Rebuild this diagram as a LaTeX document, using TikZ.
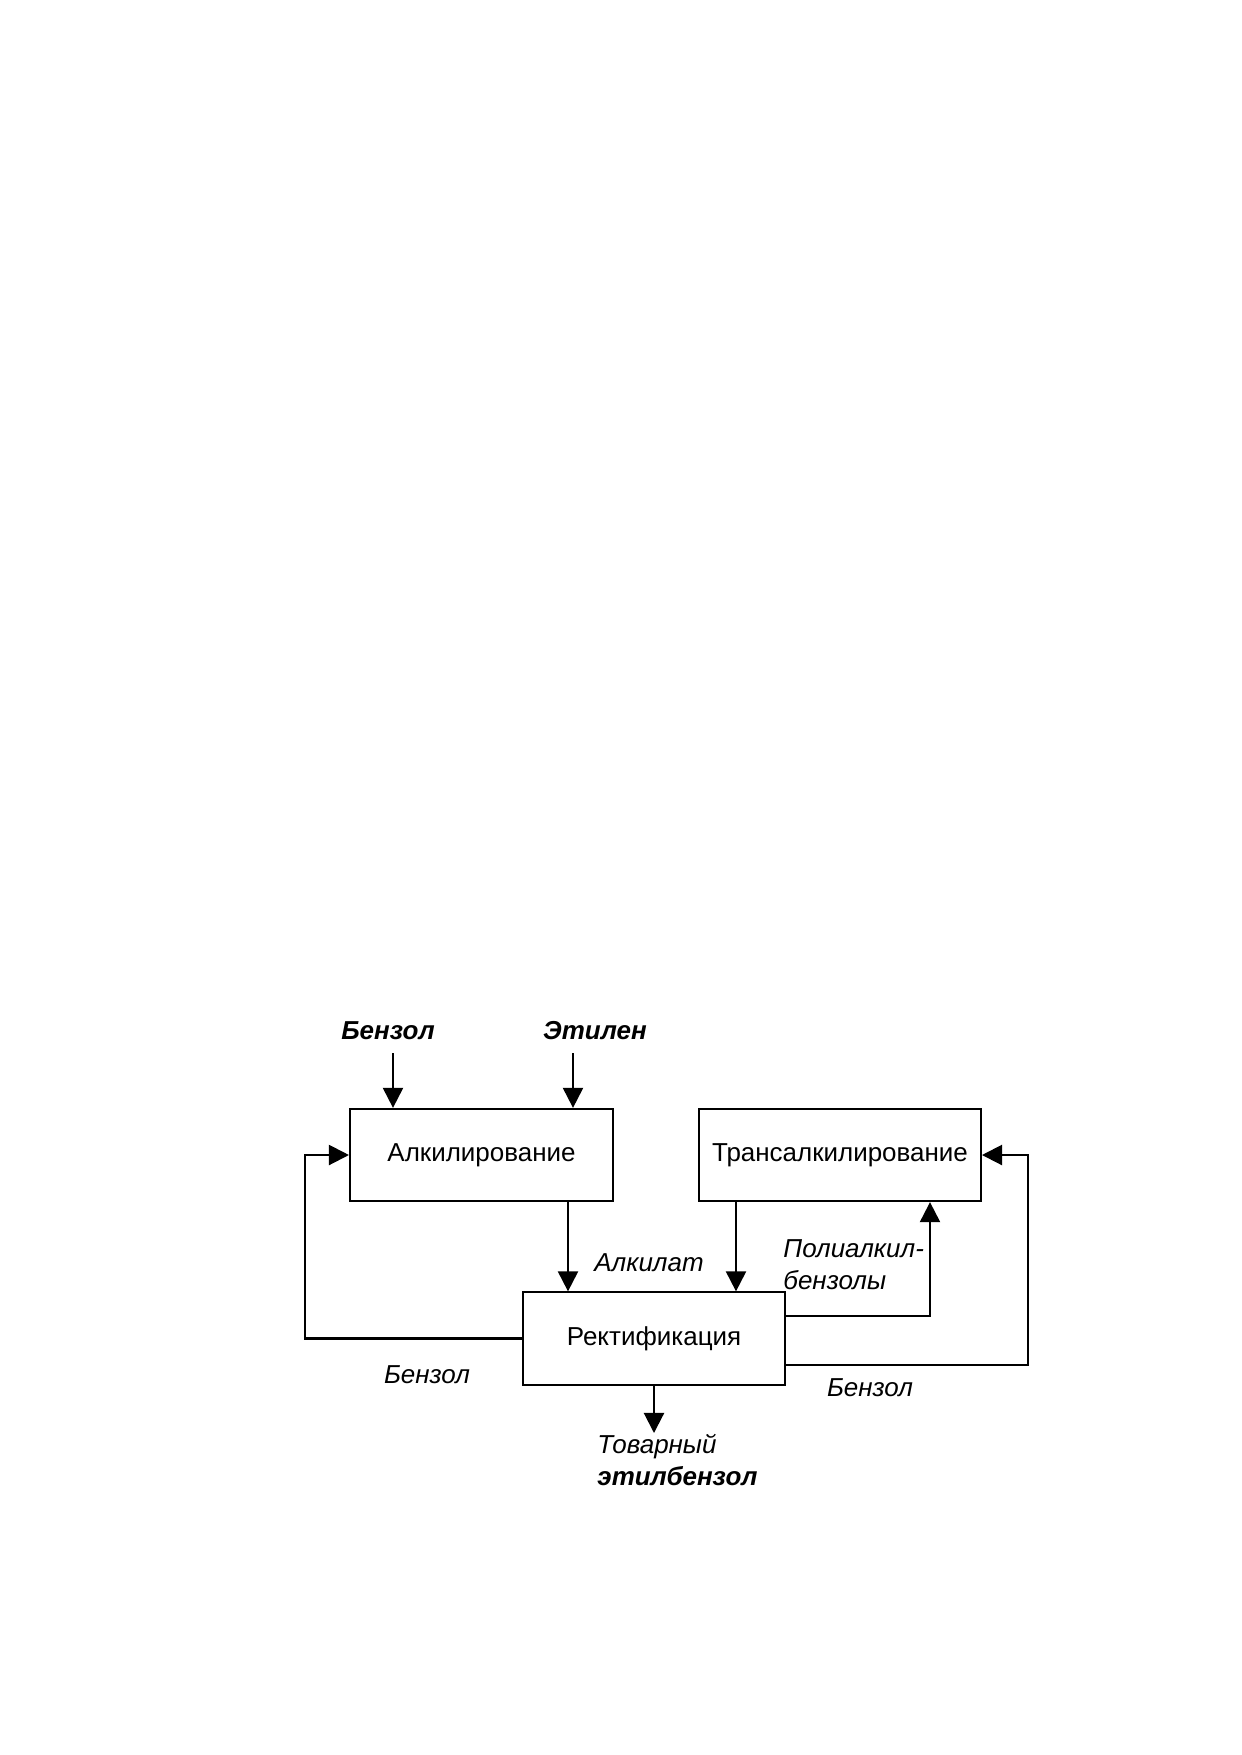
\documentclass[tikz,border=0pt]{standalone}
\usepackage{fontspec}
\setmainfont{Liberation Sans}
\usetikzlibrary{arrows.meta,positioning}

\begin{document}
\begin{tikzpicture}[x=0.016922cm, y=-0.016922cm,
    every node/.style={font=\fontsize{12.5}{15}\selectfont},
    block/.style={draw, line width=1pt, minimum height=1.56cm, inner sep=0pt},
    flow/.style={line width=1pt, -{Triangle[width=3.4mm,length=3.4mm]}},
    lbl/.style={font=\fontsize{12.5}{15}\selectfont\itshape, inner sep=0pt},
    lblb/.style={font=\fontsize{12.5}{15}\selectfont\bfseries\itshape, inner sep=0pt}]
    \useasboundingbox (0,0) rectangle (1241,1755);

    % blocks
    \node[block, minimum width=4.45cm] (alk) at (481.5,1155) {Алкилирование};
    \node[block, minimum width=4.77cm] (trans) at (840,1155) {Трансалкилирование};
    \node[block, minimum width=4.43cm] (rect) at (654,1338.5) {Ректификация};

    % labels
    \node[lblb, anchor=base] (benzin) at (388,1039) {Бензол};
    \node[lblb, anchor=base] (ethin) at (595,1039) {Этилен};
    \node[lbl, anchor=base] (alkilat) at (649,1271) {Алкилат};
    \node[lbl, anchor=base west, align=left] (pab) at (783,1289) {Полиалкил-\\бензолы};
    \node[lbl, anchor=base] (benzleft) at (427,1383) {Бензол};
    \node[lbl, anchor=base] (benzright) at (870,1396) {Бензол};
    \node[lbl, anchor=base west, align=left] (prod) at (597,1485) {Товарный\\\textbf{этилбензол}};

    \coordinate (benzsrc) at (393,1053);
    \coordinate (ethsrc) at (573,1053);
    \coordinate (prodend) at (654,1433);

    % feeds
    \draw[flow] (benzsrc) -- (benzsrc |- alk.north);
    \draw[flow] (ethsrc) -- (ethsrc |- alk.north);
    \draw[flow] (568,0 |- alk.south) -- (568,0 |- rect.north);
    \draw[flow] (736,0 |- trans.south) -- (736,0 |- rect.north);
    \draw[flow] (rect.south) -- (prodend);

    % recycles
    \draw[flow] (rect.east |- 0,1316) -- (930,1316) -- (930,0 |- trans.south);
    \draw[flow] (rect.east |- 0,1365) -- (1028,1365) -- (1028,1155) -- (trans.east);
    \draw[flow] (rect.west) -- (305,1338.5) -- (305,1155) -- (alk.west);
\end{tikzpicture}
\end{document}
